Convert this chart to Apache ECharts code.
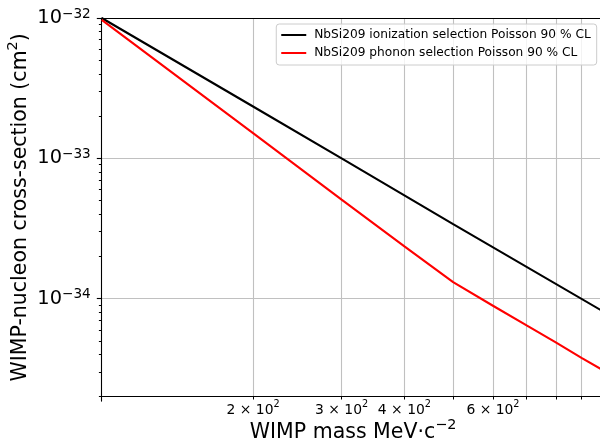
<!DOCTYPE html>
<html><head><meta charset="utf-8">
<script src="https://cdn.jsdelivr.net/npm/echarts@6/dist/echarts.min.js"></script>
<style>html,body{margin:0;padding:0;background:#fff}#c{width:600px;height:442px}</style>
</head><body><div id="c"></div>
<script>
const seriesNames = ['NbSi209 ionization selection Poisson 90 % CL', 'NbSi209 phonon selection Poisson 90 % CL'];
const seriesColors = ['#000000', '#ff0000'];
const ionMass = [100, 200, 300, 500, 1000];
const ionSigma = [1.0e-32, 2.34e-33, 1.0e-33, 3.4e-34, 8.0e-35];
const phonMass = [100, 200, 300, 400, 500, 600, 700, 800, 900, 1000];
const phonSigma = [9.7e-33, 1.51e-33, 5.07e-34, 2.36e-34, 1.31e-34, 8.9e-35, 6.44e-35, 4.88e-35, 3.78e-35, 3.05e-35];

const xMin = 100, xMax = 1000;
const yMin = 2e-35, yMax = 1e-32;
const xMajorTicks = [100];
const xMinorTicks = [200, 300, 400, 500, 600, 700, 800, 900];
const xTickLabels = [200, 300, 400, 600];
const yMajorTicks = [1e-34, 1e-33, 1e-32];
const yMinorTicks = [2e-35, 3e-35, 4e-35, 5e-35, 6e-35, 7e-35, 8e-35, 9e-35,
  2e-34, 3e-34, 4e-34, 5e-34, 6e-34, 7e-34, 8e-34, 9e-34,
  2e-33, 3e-33, 4e-33, 5e-33, 6e-33, 7e-33, 8e-33, 9e-33];
const xTitle = ['WIMP mass MeV·c', '−2'];
const yTitle = ['WIMP-nucleon cross-section (cm', '2', ')'];

// The y axis works in units of 1e-35 cm² (ECharts' rounding loses values this small);
// labels convert back to cm² exponents.
const Y_UNIT_EXP = -35;
const toUnit = v => Math.round(v / Math.pow(10, Y_UNIT_EXP) * 1e6) / 1e6;

const FONT = 'DejaVu Sans';
const zip = (a, b) => a.map((v, i) => [v, toUnit(b[i])]);
const axisLineStyle = { color: '#000', width: 1.1 };

function xLabel(v) {
  const e = Math.floor(Math.log10(v) + 1e-9);
  const m = Math.round(v / Math.pow(10, e));
  return '{n|' + m + ' × 10}{s|' + e + '}';
}
function yLabel(v) {
  const e = Math.round(Math.log10(v)) + Y_UNIT_EXP;
  return '{n|10}{s|' + (e < 0 ? '−' + (-e) : e) + '}';
}

const chart = echarts.init(document.getElementById('c'), null, { renderer: 'canvas' });
chart.setOption({
  animation: false,
  backgroundColor: '#fff',
  grid: { left: 101.7, right: -4.5, top: 18, bottom: 45.3, containLabel: false, outerBoundsMode: 'none' },
  legend: {
    data: seriesNames,
    orient: 'vertical', align: 'left',
    right: 3.3, top: 24,
    icon: 'rect', itemWidth: 25, itemHeight: 2, itemGap: 4,
    padding: [4, 6, 5, 5],
    backgroundColor: 'rgba(255,255,255,0.8)',
    borderColor: '#cccccc', borderWidth: 1, borderRadius: 3,
    textStyle: { fontFamily: FONT, fontSize: 12.2, color: '#000', padding: [0, 0, 0, 3], lineHeight: 14 }
  },
  xAxis: [
    {
      type: 'log', logBase: 10, min: xMin, max: xMax, position: 'bottom',
      axisLine: { show: true, onZero: false, lineStyle: axisLineStyle },
      axisTick: { show: true, customValues: xMinorTicks, length: 2.8, lineStyle: { color: '#000', width: 1 } },
      minorTick: { show: false },
      axisLabel: {
        show: true, customValues: xTickLabels, formatter: xLabel, margin: 3,
        rich: {
          n: { fontFamily: FONT, fontSize: 13.9, color: '#000', lineHeight: 22 },
          s: { fontFamily: FONT, fontSize: 9.7, color: '#000', verticalAlign: 'top' }
        }
      },
      splitLine: { show: true, lineStyle: { color: '#c0c0c0', width: 1.1 } },
      name: '{m|' + xTitle[0] + '}{s|' + xTitle[1] + '}',
      nameLocation: 'middle', nameGap: 22, nameMoveOverlap: false,
      nameTextStyle: {
        rich: {
          m: { fontFamily: FONT, fontSize: 20.5, color: '#000', lineHeight: 28 },
          s: { fontFamily: FONT, fontSize: 14.4, color: '#000', verticalAlign: 'top' }
        }
      }
    },
    {
      type: 'log', logBase: 10, min: xMin, max: xMax, position: 'bottom',
      axisLine: { show: false, onZero: false },
      axisTick: { show: true, customValues: xMajorTicks, length: 4.9, lineStyle: { color: '#000', width: 1.1 } },
      axisLabel: { show: false },
      splitLine: { show: false }
    },
    {
      type: 'log', logBase: 10, min: xMin, max: xMax, position: 'top',
      axisLine: { show: true, onZero: false, lineStyle: axisLineStyle },
      axisTick: { show: false }, axisLabel: { show: false }, splitLine: { show: false }
    }
  ],
  yAxis: [
    {
      type: 'log', logBase: 10, min: toUnit(yMin), max: toUnit(yMax), position: 'left',
      axisLine: { show: true, onZero: false, lineStyle: axisLineStyle },
      axisTick: { show: true, customValues: yMajorTicks.map(toUnit), length: 4.9, lineStyle: { color: '#000', width: 1.1 } },
      minorTick: { show: false },
      axisLabel: {
        show: true, customValues: yMajorTicks.map(toUnit), formatter: yLabel, margin: 11,
        rich: {
          n: { fontFamily: FONT, fontSize: 19.4, color: '#000', lineHeight: 22 },
          s: { fontFamily: FONT, fontSize: 13.6, color: '#000', verticalAlign: 'top' }
        }
      },
      splitLine: { show: true, lineStyle: { color: '#c0c0c0', width: 1.1 } },
      name: '{m|' + yTitle[0] + '}{s|' + yTitle[1] + '}{m|' + yTitle[2] + '}',
      nameLocation: 'middle', nameGap: 67, nameMoveOverlap: false,
      nameTextStyle: {
        rich: {
          m: { fontFamily: FONT, fontSize: 20.5, color: '#000', lineHeight: 28 },
          s: { fontFamily: FONT, fontSize: 14.4, color: '#000', verticalAlign: 'top' }
        }
      }
    },
    {
      type: 'log', logBase: 10, min: toUnit(yMin), max: toUnit(yMax), position: 'left',
      axisLine: { show: false, onZero: false },
      axisTick: { show: true, customValues: yMinorTicks.map(toUnit), length: 2.8, lineStyle: { color: '#000', width: 1 } },
      axisLabel: { show: false },
      splitLine: { show: false }
    }
  ],
  series: [
    {
      name: seriesNames[0], type: 'line', xAxisIndex: 0, yAxisIndex: 0,
      data: zip(ionMass, ionSigma), showSymbol: false, symbol: 'none',
      lineStyle: { color: seriesColors[0], width: 2.1 }, itemStyle: { color: seriesColors[0] },
      clip: true, z: 3
    },
    {
      name: seriesNames[1], type: 'line', xAxisIndex: 0, yAxisIndex: 0,
      data: zip(phonMass, phonSigma), showSymbol: false, symbol: 'none',
      lineStyle: { color: seriesColors[1], width: 2.1 }, itemStyle: { color: seriesColors[1] },
      clip: true, z: 3
    }
  ]
});
</script>
</body></html>
